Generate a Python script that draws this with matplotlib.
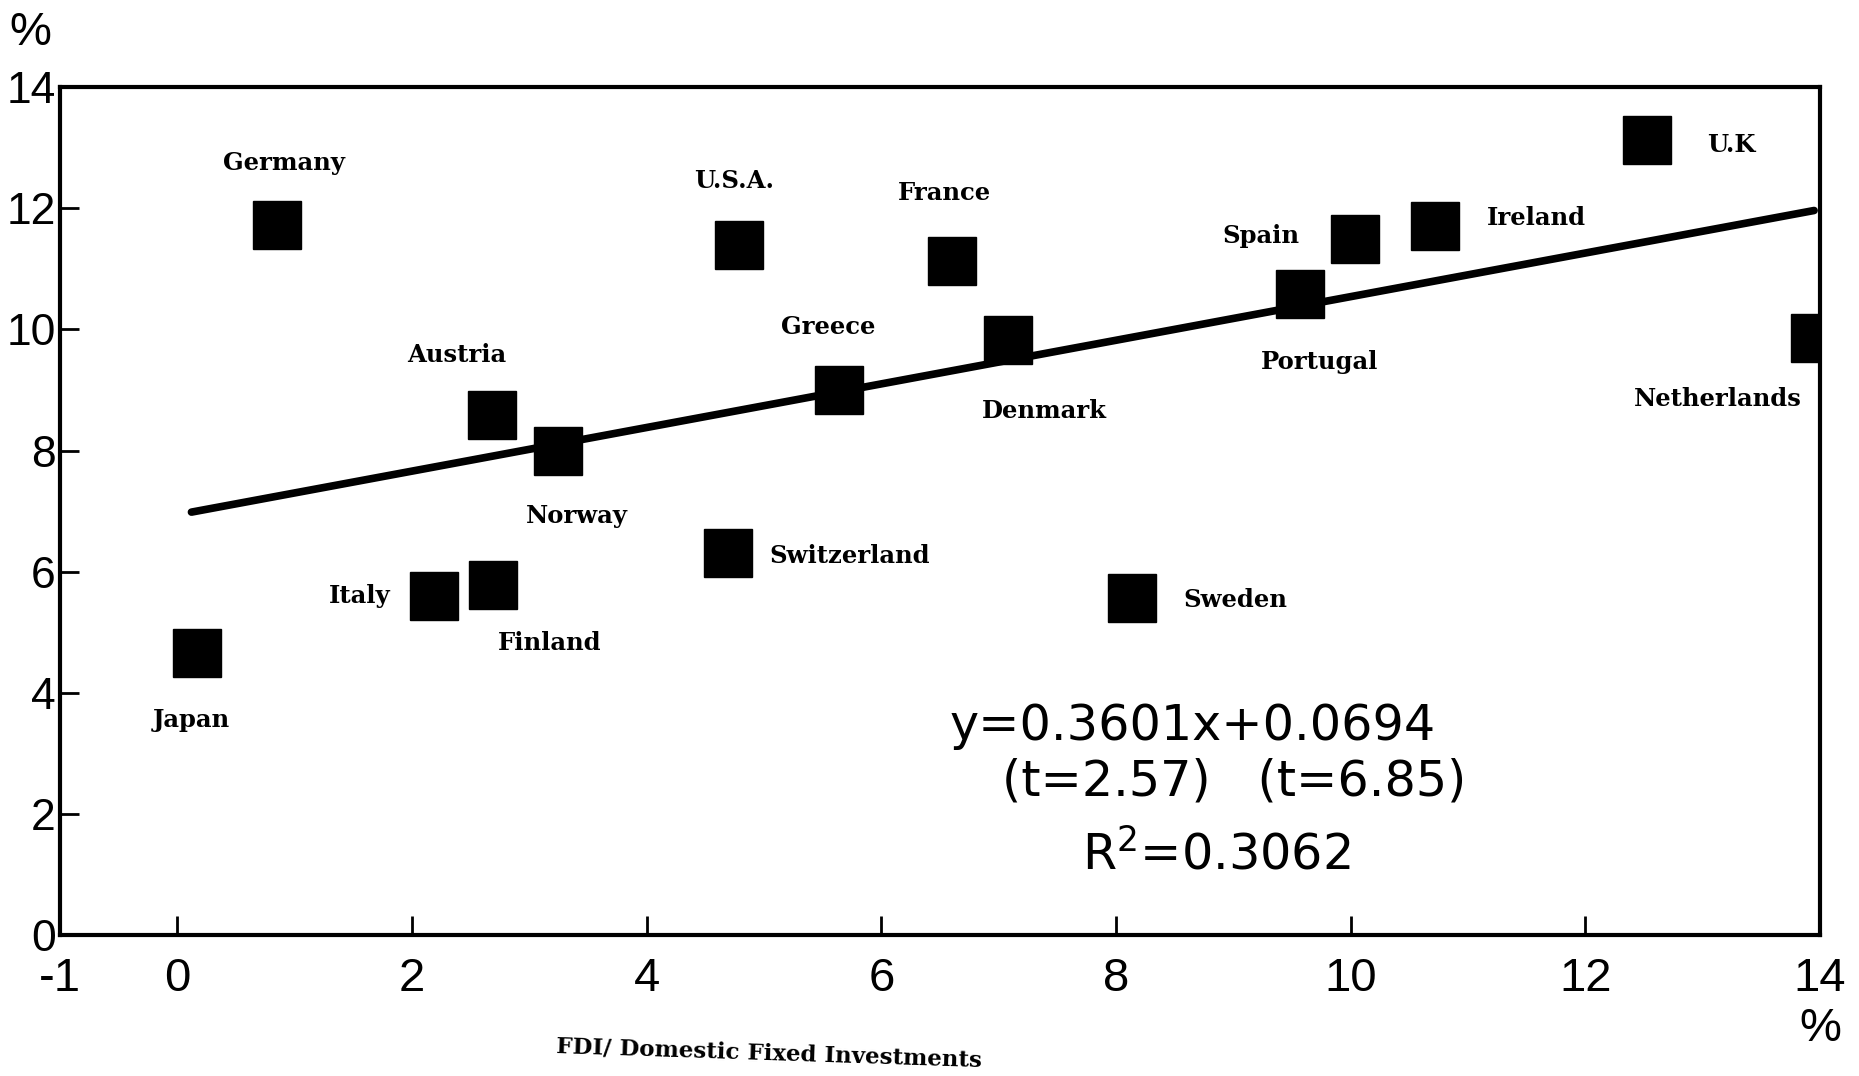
import matplotlib.pyplot as plt
import matplotlib.transforms as mtransforms

# FDI / domestic fixed investment (%) vs. y (%)
countries = ['Japan', 'Germany', 'Italy', 'Finland', 'Austria', 'Norway',
             'Switzerland', 'U.S.A.', 'Greece', 'France', 'Denmark', 'Sweden',
             'Portugal', 'Spain', 'Ireland', 'U.K', 'Netherlands']
fdi_ratio = [0.17, 0.85, 2.19, 2.69, 2.68, 3.24, 4.69, 4.79, 5.64, 6.60,
             7.08, 8.14, 9.57, 10.04, 10.72, 12.53, 13.96]
y_ratio = [4.65, 11.72, 5.60, 5.78, 8.59, 7.99, 6.31, 11.39, 9.00, 11.13,
           9.82, 5.57, 10.59, 11.50, 11.70, 13.13, 9.86]

# regression y = 0.3601x + 0.0694 (intercept in % -> 6.94)
slope = 0.3601
intercept = 6.94
fit_x = [0.12, 13.95]

xticks = [-1, 0, 2, 4, 6, 8, 10, 12, 14]
yticks = [0, 2, 4, 6, 8, 10, 12, 14]

# label placement, offset in points from the marker
label_offsets = {
    'Japan': (-4, -48), 'Germany': (5, 45), 'Italy': (-54, 0),
    'Finland': (41, -42), 'Austria': (-25, 43), 'Norway': (14, -47),
    'Switzerland': (88, -2), 'U.S.A.': (-4, 46), 'Greece': (-8, 45),
    'France': (-5, 49), 'Denmark': (26, -51), 'Sweden': (74, -2),
    'Portugal': (14, -49), 'Spain': (-68, 2), 'Ireland': (73, 6),
    'U.K': (60, -4), 'Netherlands': (-70, -44),
}

fig = plt.figure(figsize=(18.59, 10.76), dpi=100)
ax = fig.add_axes([0.0323, 0.131, 0.9467, 0.788])

ax.plot(fdi_ratio, y_ratio, 's', color='black', markersize=34, zorder=3)
ax.plot(fit_x, [slope * v + intercept for v in fit_x], '-', color='black',
        lw=5.5, solid_capstyle='round', zorder=2)

label_font = dict(family='DejaVu Serif', fontweight='bold', fontsize=17.5)
for name, xv, yv in zip(countries, fdi_ratio, y_ratio):
    ax.annotate(name, (xv, yv), xytext=label_offsets[name],
                textcoords='offset points', ha='center', va='center',
                **label_font)

ax.set_xlim(-1, 14)
ax.set_ylim(0, 14)
ax.set_xticks(xticks)
ax.set_xticklabels([str(t) for t in xticks])
ax.set_yticks(yticks)
ax.set_yticklabels([str(t) for t in yticks])
ax.tick_params(direction='in', length=14, width=2)
ax.tick_params(axis='x', pad=16, labelsize=34)
ax.tick_params(axis='y', pad=3, labelsize=32)
for lab in ax.get_xticklabels() + ax.get_yticklabels():
    lab.set_family('Liberation Sans')
for sp in ax.spines.values():
    sp.set_linewidth(3)

# units
ax.text(-0.017, 1.064, '%', transform=ax.transAxes, ha='center', va='center',
        fontsize=34, family='Liberation Sans')
trans = mtransforms.blended_transform_factory(ax.transData, ax.transAxes)
ax.text(14, -0.111, '%', transform=trans, ha='center', va='center',
        fontsize=34, family='Liberation Sans')

# regression equation
eq_font = dict(family='DejaVu Sans', fontsize=35.5, va='center', ha='left')
ax.text(6.58, 3.45, 'y=0.3601x+0.0694', **eq_font)
ax.text(7.03, 2.53, '(t=2.57)   (t=6.85)', **eq_font)
ax.text(7.71, 1.33, 'R$^2$=0.3062', **eq_font)

fig.text(0.4135, 0.021, 'FDI/ Domestic Fixed Investments', ha='center',
         va='center', rotation=-1.9, family='DejaVu Serif',
         fontweight='bold', fontsize=16.5)

fig.savefig('out.png', dpi=100)
